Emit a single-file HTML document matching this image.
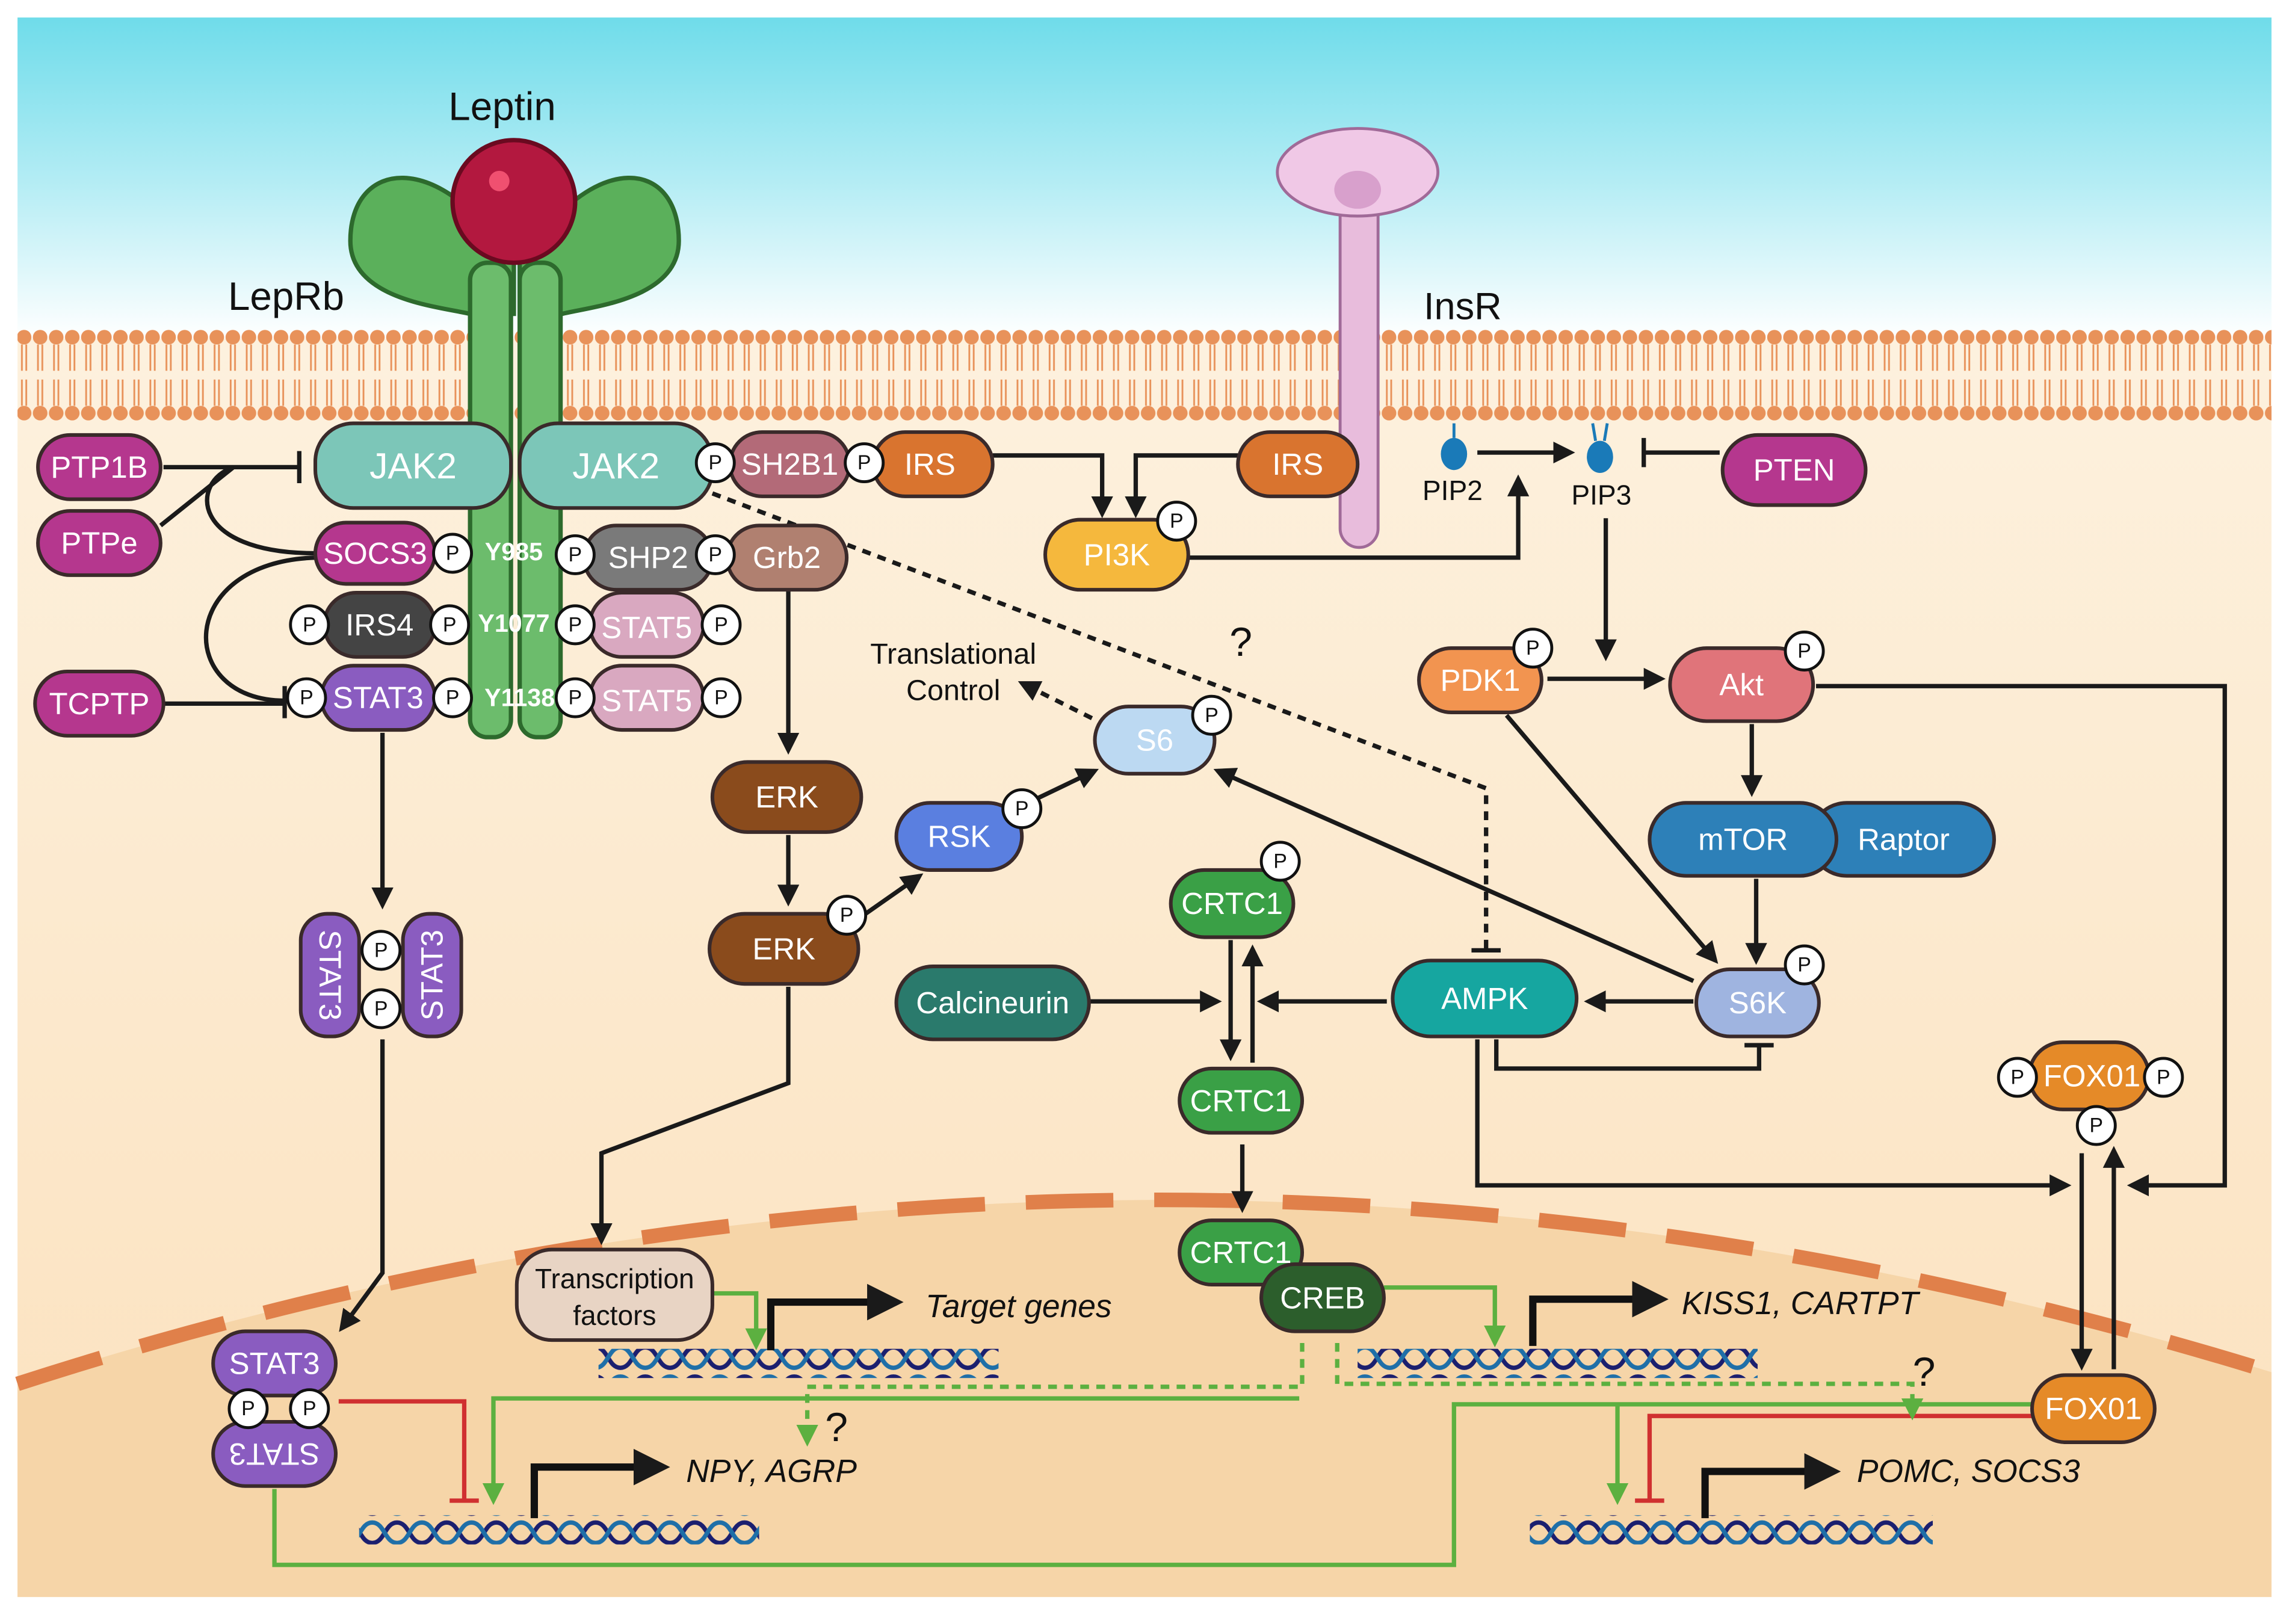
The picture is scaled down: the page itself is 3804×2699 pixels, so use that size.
<!DOCTYPE html>
<html><head><meta charset="utf-8"><style>
html,body{margin:0;padding:0;background:#fff;}
svg{display:block;}
text{font-family:"Liberation Sans",sans-serif;}
.w{fill:#fff;font-size:21px;text-anchor:middle;dominant-baseline:central;}
.k{fill:#111;font-size:22px;text-anchor:middle;dominant-baseline:central;}
.pill{stroke:#3a2a2a;stroke-width:2.5;}
.ln{fill:none;stroke:#1a1a1a;stroke-width:3;}
.gr{fill:none;stroke:#5cb040;stroke-width:3;}
.rd{fill:none;stroke:#d03030;stroke-width:3;}
.it{font-style:italic;font-size:22px;fill:#111;dominant-baseline:central;}
</style></head><body>
<svg width="3804" height="2699" viewBox="0 0 1568 1112.5" preserveAspectRatio="none" xmlns="http://www.w3.org/2000/svg">
<defs>
<linearGradient id="sky" x1="0" y1="0" x2="0" y2="1">
<stop offset="0" stop-color="#6fdcea"/><stop offset="0.5" stop-color="#b2ecf4"/><stop offset="1" stop-color="#ffffff"/></linearGradient>
<linearGradient id="cyt" x1="0" y1="0" x2="0" y2="1">
<stop offset="0" stop-color="#fdf1de"/><stop offset="1" stop-color="#fbe1bd"/></linearGradient>
<pattern id="mem" x="0" y="224" width="11" height="66" patternUnits="userSpaceOnUse">
<line x1="4" y1="12" x2="4" y2="30" stroke="#e8925a" stroke-width="1.2"/><line x1="7" y1="12" x2="7" y2="30" stroke="#e8925a" stroke-width="1.2"/>
<line x1="4" y1="36" x2="4" y2="54" stroke="#e8925a" stroke-width="1.2"/><line x1="7" y1="36" x2="7" y2="54" stroke="#e8925a" stroke-width="1.2"/>
<circle cx="5.5" cy="7" r="5" fill="#e8925a"/><circle cx="5.5" cy="59" r="5" fill="#e8925a"/></pattern>
<pattern id="dna" x="0" y="0" width="34" height="20" patternUnits="userSpaceOnUse">
<path d="M0,3 C8.5,3 8.5,17 17,17 C25.5,17 25.5,3 34,3" fill="none" stroke="#1b1f6f" stroke-width="3"/>
<path d="M0,17 C8.5,17 8.5,3 17,3 C25.5,3 25.5,17 34,17" fill="none" stroke="#1f6fa8" stroke-width="3"/></pattern>
<marker id="a" viewBox="0 0 10 10" refX="8" refY="5" markerWidth="5" markerHeight="5" orient="auto"><path d="M0,0 L10,5 L0,10 z" fill="#1a1a1a"/></marker>
<marker id="g" viewBox="0 0 10 10" refX="8" refY="5" markerWidth="5" markerHeight="5" orient="auto"><path d="M0,0 L10,5 L0,10 z" fill="#5cb040"/></marker>
</defs>
<rect width="1568" height="1112.5" fill="#fff"/>
<rect x="12" y="12" width="1544" height="220" fill="url(#sky)"/>
<rect x="12" y="232" width="1544" height="862" fill="url(#cyt)"/>
<path d="M12,948 Q780,700 1556,940 V1094 H12 Z" fill="#f6d5a8"/>
<path d="M12,948 Q780,700 1556,940" fill="none" stroke="#e0804a" stroke-width="10" stroke-dasharray="60,28"/>
<rect x="12" y="224" width="1544" height="66" fill="url(#mem)"/>

<!-- InsR -->
<rect x="918" y="125" width="26" height="250" rx="13" fill="#e8bcdc" stroke="#a06a98" stroke-width="2"/>
<ellipse cx="930" cy="118" rx="55" ry="30" fill="#f0c8e6" stroke="#a06a98" stroke-width="2"/>
<ellipse cx="930" cy="130" rx="16" ry="13" fill="#d8a0cc"/>
<text x="1002" y="210" class="k" style="font-size:26px">InsR</text>

<!-- LepRb -->
<path d="M352,180 C300,100 240,110 240,165 C240,205 300,210 322,215 L352,215 Z" fill="#5bb05b" stroke="#2d6a2d" stroke-width="3"/>
<path d="M356,180 C408,100 465,110 465,165 C465,205 405,210 385,215 L356,215 Z" fill="#5bb05b" stroke="#2d6a2d" stroke-width="3"/>
<rect x="322" y="180" width="28" height="325" rx="12" fill="#6cbc6c" stroke="#2d6a2d" stroke-width="3"/>
<rect x="356" y="180" width="28" height="325" rx="12" fill="#6cbc6c" stroke="#2d6a2d" stroke-width="3"/>
<circle cx="352" cy="138" r="42" fill="#b3183f" stroke="#6a0a20" stroke-width="3"/>
<circle cx="342" cy="124" r="7" fill="#f05070"/>
<text x="344" y="73" class="k" style="font-size:27px">Leptin</text>
<text x="196" y="203" class="k" style="font-size:27px">LepRb</text>

<!-- PIP -->
<ellipse cx="996" cy="311" rx="9" ry="11" fill="#1a7ab8"/><line x1="996" y1="300" x2="996" y2="290" stroke="#1a7ab8" stroke-width="2"/>
<ellipse cx="1096" cy="313" rx="9" ry="11" fill="#1a7ab8"/><line x1="1093" y1="302" x2="1091" y2="290" stroke="#1a7ab8" stroke-width="2"/><line x1="1099" y1="302" x2="1101" y2="290" stroke="#1a7ab8" stroke-width="2"/>
<text x="995" y="336" class="k" style="font-size:19px">PIP2</text>
<text x="1097" y="339" class="k" style="font-size:19px">PIP3</text>

<!-- DNA -->
<rect x="410" y="924" width="274" height="20" fill="url(#dna)"/>
<rect x="930" y="924" width="274" height="20" fill="url(#dna)"/>
<rect x="246" y="1038" width="274" height="20" fill="url(#dna)"/>
<rect x="1048" y="1038" width="276" height="20" fill="url(#dna)"/>
<g fill="none" stroke="#111" stroke-width="5">
<path d="M528,925 V892 H614" marker-end="url(#a)"/>
<path d="M1050,922 V890 H1138" marker-end="url(#a)"/>
<path d="M366,1040 V1005 H454" marker-end="url(#a)"/>
<path d="M1168,1040 V1008 H1256" marker-end="url(#a)"/>
</g>
<text x="634" y="895" class="it">Target genes</text>
<text x="1152" y="893" class="it">KISS1, CARTPT</text>
<text x="470" y="1008" class="it">NPY, AGRP</text>
<text x="1272" y="1008" class="it">POMC, SOCS3</text>

<!-- connectors -->
<g class="ln">
<path d="M112,320 H205"/><path d="M205,309 V331"/>
<path d="M110,360 L160,320"/>
<path d="M160,320 C130,330 130,379 216,379"/>
<path d="M216,382 C120,385 120,480 195,480"/>
<path d="M112,482 H195"/><path d="M195,470 V492"/>
<path d="M680,312 H755 V352" marker-end="url(#a)"/>
<path d="M848,312 H778 V352" marker-end="url(#a)"/>
<path d="M814,382 H1040 V328" marker-end="url(#a)"/>
<path d="M1012,310 H1076" marker-end="url(#a)"/>
<path d="M1178,310 H1126"/><path d="M1126,300 V320"/>
<path d="M1100,355 V450" marker-end="url(#a)"/>
<path d="M1060,465 H1138" marker-end="url(#a)"/>
<path d="M1032,490 L1175,658" marker-end="url(#a)"/>
<path d="M1200,496 V543" marker-end="url(#a)"/>
<path d="M1203,602 V658" marker-end="url(#a)"/>
<path d="M1160,672 L834,528" marker-end="url(#a)"/>
<path d="M1160,686 H1088" marker-end="url(#a)"/>
<path d="M1025,712 V732 H1205 V716"/><path d="M1195,716 H1215"/>
<path d="M950,686 H864" marker-end="url(#a)"/>
<path d="M746,686 H834" marker-end="url(#a)"/>
<path d="M843,644 V724" marker-end="url(#a)"/>
<path d="M858,728 V650" marker-end="url(#a)"/>
<path d="M851,784 V828" marker-end="url(#a)"/>
<path d="M1244,470 H1524 V812 H1460" marker-end="url(#a)"/>
<path d="M1012,712 V812 H1416" marker-end="url(#a)"/>
<path d="M1426,790 V936" marker-end="url(#a)"/>
<path d="M1448,938 V788" marker-end="url(#a)"/>
<path d="M488,338 L1018,540 V650" stroke-dasharray="6,5"/><path d="M1008,651 H1028"/>
<path d="M748,492 L700,468" stroke-dasharray="6,5" marker-end="url(#a)"/>
<path d="M540,405 V514" marker-end="url(#a)"/>
<path d="M540,572 V618" marker-end="url(#a)"/>
<path d="M590,628 L630,600" marker-end="url(#a)"/>
<path d="M700,552 L750,528" marker-end="url(#a)"/>
<path d="M540,676 V742 L412,790 V850" marker-end="url(#a)"/>
<path d="M262,502 V620" marker-end="url(#a)"/>
<path d="M262,712 V872 L234,910" marker-end="url(#a)"/>
</g>
<g>
<path class="rd" d="M232,960 H318 V1028"/><path class="rd" d="M308,1028 H328"/>
<path class="rd" d="M1392,970 H1130 V1028"/><path class="rd" d="M1120,1028 H1140"/>
<path class="gr" d="M1392,962 H996 V1072 H188 V1020"/>
<path class="gr" d="M1108,962 V1028" marker-end="url(#g)"/>
<path class="gr" d="M488,886 H518 V922" marker-end="url(#g)"/>
<path class="gr" d="M948,882 H1024 V920" marker-end="url(#g)"/>
<path class="gr" d="M890,958 H338 V1028" marker-end="url(#g)"/>
<path class="gr" d="M892,920 V950 H553 V988" stroke-dasharray="6,5" marker-end="url(#g)"/>
<path class="gr" d="M916,920 V948 H1310 V970" stroke-dasharray="6,5" marker-end="url(#g)"/>
</g>
<text x="850" y="440" class="k" style="font-size:28px">?</text>
<text x="573" y="978" class="k" style="font-size:28px">?</text>
<text x="1318" y="940" class="k" style="font-size:28px">?</text>
<text x="653" y="448" class="k" style="font-size:20px">Translational</text>
<text x="653" y="473" class="k" style="font-size:20px">Control</text>

<!-- nodes -->
<g class="pill">
<rect x="26" y="298" width="84" height="44" rx="22" fill="#b5378e"/>
<rect x="26" y="350" width="84" height="44" rx="22" fill="#b5378e"/>
<rect x="24" y="460" width="88" height="44" rx="22" fill="#b5378e"/>
<rect x="216" y="290" width="134" height="58" rx="26" fill="#7cc6b8"/>
<rect x="356" y="290" width="132" height="58" rx="26" fill="#7cc6b8"/>
<rect x="500" y="296" width="82" height="44" rx="22" fill="#b36a78"/>
<rect x="598" y="296" width="82" height="44" rx="22" fill="#d9742f"/>
<rect x="848" y="296" width="82" height="44" rx="22" fill="#d9742f"/>
<rect x="716" y="356" width="98" height="48" rx="24" fill="#f5b83d"/>
<rect x="1180" y="298" width="98" height="48" rx="24" fill="#b5378e"/>
<rect x="216" y="358" width="82" height="42" rx="21" fill="#b5378e"/>
<rect x="400" y="360" width="88" height="44" rx="22" fill="#7a7a7a"/>
<rect x="498" y="360" width="82" height="44" rx="22" fill="#b08070"/>
<rect x="222" y="406" width="76" height="44" rx="22" fill="#444"/>
<rect x="404" y="406" width="78" height="44" rx="22" fill="#d9a8c0"/>
<rect x="220" y="456" width="78" height="44" rx="22" fill="#8a5cc0"/>
<rect x="404" y="456" width="78" height="44" rx="22" fill="#d9a8c0"/>
<rect x="488" y="522" width="102" height="48" rx="24" fill="#8a4b1c"/>
<rect x="486" y="626" width="102" height="48" rx="24" fill="#8a4b1c"/>
<rect x="614" y="550" width="86" height="46" rx="23" fill="#5a7fe0"/>
<rect x="750" y="484" width="82" height="46" rx="23" fill="#bcd9f2"/>
<rect x="972" y="444" width="84" height="44" rx="22" fill="#f29450"/>
<rect x="1144" y="444" width="98" height="50" rx="25" fill="#e0747a"/>
<rect x="1240" y="550" width="126" height="50" rx="25" fill="#2d80b8"/>
<rect x="1130" y="550" width="128" height="50" rx="25" fill="#2d80b8"/>
<rect x="1162" y="664" width="84" height="46" rx="23" fill="#9fb4e0"/>
<rect x="954" y="658" width="126" height="52" rx="26" fill="#16a6a0"/>
<rect x="614" y="662" width="132" height="50" rx="25" fill="#2a7a6c"/>
<rect x="802" y="596" width="84" height="46" rx="23" fill="#3aa046"/>
<rect x="808" y="732" width="84" height="44" rx="22" fill="#3aa046"/>
<rect x="808" y="836" width="84" height="44" rx="22" fill="#3aa046"/>
<rect x="864" y="866" width="84" height="46" rx="23" fill="#2c5e2c"/>
<rect x="1390" y="714" width="82" height="46" rx="23" fill="#e58a28"/>
<rect x="1392" y="942" width="84" height="46" rx="23" fill="#e58a28"/>
<rect x="354" y="856" width="134" height="62" rx="24" fill="#e8d4c4"/>
<rect x="206" y="626" width="40" height="84" rx="18" fill="#8a5cc0"/>
<rect x="276" y="626" width="40" height="84" rx="18" fill="#8a5cc0"/>
<rect x="146" y="912" width="84" height="44" rx="22" fill="#8a5cc0"/>
<rect x="146" y="974" width="84" height="44" rx="22" fill="#8a5cc0"/>
</g>
<g class="w">
<text x="68" y="320">PTP1B</text><text x="68" y="372">PTPe</text><text x="68" y="482">TCPTP</text>
<text x="283" y="319" style="font-size:25px">JAK2</text><text x="422" y="319" style="font-size:25px">JAK2</text>
<text x="541" y="318">SH2B1</text><text x="637" y="318">IRS</text><text x="889" y="318">IRS</text>
<text x="765" y="380">PI3K</text><text x="1229" y="322">PTEN</text>
<text x="257" y="379">SOCS3</text><text x="444" y="382">SHP2</text><text x="539" y="382">Grb2</text>
<text x="260" y="428">IRS4</text><text x="443" y="430">STAT5</text><text x="259" y="478">STAT3</text><text x="443" y="480">STAT5</text>
<text x="539" y="546">ERK</text><text x="537" y="650">ERK</text><text x="657" y="573">RSK</text><text x="791" y="507">S6</text>
<text x="1014" y="466">PDK1</text><text x="1193" y="469">Akt</text><text x="1194" y="575">mTOR</text><text x="1304" y="575">Raptor</text>
<text x="1204" y="687">S6K</text><text x="1017" y="684">AMPK</text><text x="680" y="687">Calcineurin</text>
<text x="844" y="619">CRTC1</text><text x="850" y="754">CRTC1</text><text x="850" y="858">CRTC1</text><text x="906" y="889">CREB</text>
<text x="1433" y="737">FOX01</text><text x="1434" y="965">FOX01</text>
<text x="188" y="934">STAT3</text>
<text x="188" y="996" transform="rotate(180 188 996)">STAT3</text>
<text x="226" y="668" transform="rotate(90 226 668)">STAT3</text>
<text x="296" y="668" transform="rotate(-90 296 668)">STAT3</text>
<text x="352" y="378" style="font-size:17px;font-weight:bold">Y985</text>
<text x="352" y="427" style="font-size:17px;font-weight:bold">Y1077</text>
<text x="356" y="478" style="font-size:17px;font-weight:bold">Y1138</text>
</g>
<text x="421" y="876" class="k" style="font-size:19px">Transcription</text>
<text x="421" y="901" class="k" style="font-size:19px">factors</text>

<!-- P circles -->
<g fill="#fff" stroke="#111" stroke-width="2">
<circle cx="490" cy="317" r="13"/><circle cx="592" cy="317" r="13"/><circle cx="806" cy="357" r="13"/>
<circle cx="310" cy="379" r="13"/><circle cx="394" cy="380" r="13"/><circle cx="490" cy="380" r="13"/>
<circle cx="212" cy="428" r="13"/><circle cx="308" cy="428" r="13"/><circle cx="394" cy="428" r="13"/><circle cx="494" cy="428" r="13"/>
<circle cx="210" cy="478" r="13"/><circle cx="310" cy="478" r="13"/><circle cx="394" cy="478" r="13"/><circle cx="494" cy="478" r="13"/>
<circle cx="580" cy="627" r="13"/><circle cx="700" cy="554" r="13"/><circle cx="830" cy="490" r="13"/>
<circle cx="1050" cy="444" r="13"/><circle cx="1236" cy="446" r="13"/><circle cx="1236" cy="661" r="13"/><circle cx="877" cy="590" r="13"/>
<circle cx="1382" cy="738" r="13"/><circle cx="1482" cy="738" r="13"/><circle cx="1436" cy="771" r="13"/>
<circle cx="261" cy="651" r="13"/><circle cx="261" cy="691" r="13"/><circle cx="170" cy="965" r="13"/><circle cx="212" cy="965" r="13"/>
</g>
<g class="k" style="font-size:14px">
<text x="490" y="317">P</text><text x="592" y="317">P</text><text x="806" y="357">P</text>
<text x="310" y="379">P</text><text x="394" y="380">P</text><text x="490" y="380">P</text>
<text x="212" y="428">P</text><text x="308" y="428">P</text><text x="394" y="428">P</text><text x="494" y="428">P</text>
<text x="210" y="478">P</text><text x="310" y="478">P</text><text x="394" y="478">P</text><text x="494" y="478">P</text>
<text x="580" y="627">P</text><text x="700" y="554">P</text><text x="830" y="490">P</text>
<text x="1050" y="444">P</text><text x="1236" y="446">P</text><text x="1236" y="661">P</text><text x="877" y="590">P</text>
<text x="1382" y="738">P</text><text x="1482" y="738">P</text><text x="1436" y="771">P</text>
<text x="261" y="651">P</text><text x="261" y="691">P</text><text x="170" y="965">P</text><text x="212" y="965">P</text>
</g>
</svg>
</body></html>
